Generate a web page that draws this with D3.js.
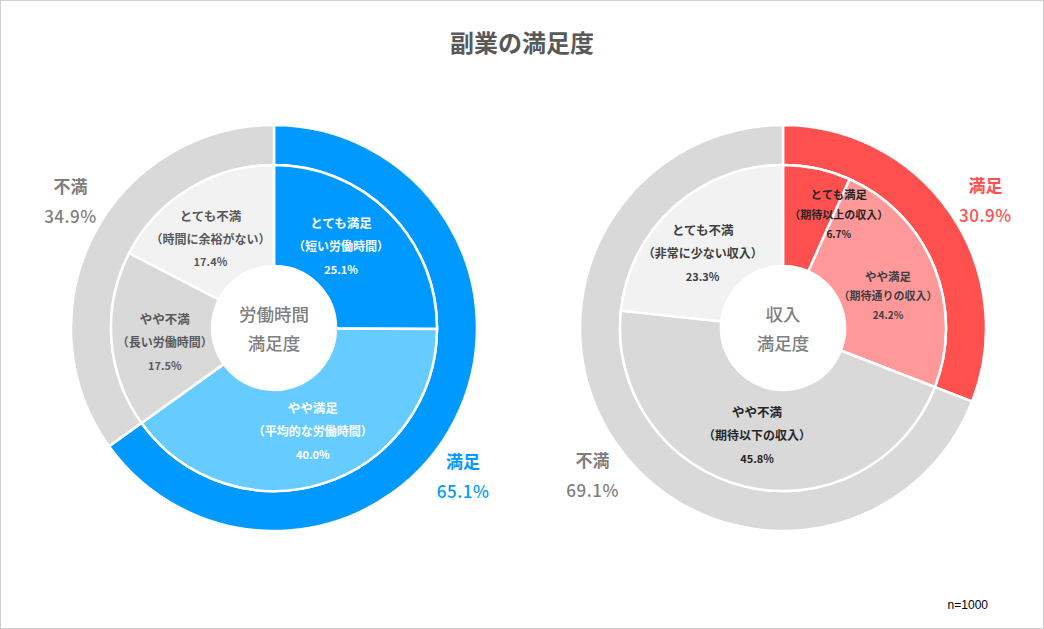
<!DOCTYPE html>
<html><head><meta charset="utf-8">
<script src="https://cdn.jsdelivr.net/npm/d3@7/dist/d3.min.js"></script>
<style>
html,body{margin:0;padding:0;background:#fff;}
svg{display:block;font-family:"Noto Sans CJK JP","Noto Sans",sans-serif;}
</style></head>
<body><svg id="chart" width="1044" height="629"></svg>
<script>
// ---------- data ----------
const chartTitle = "副業の満足度";
const sampleNote = "n=1000";

const leftCenterText = ["労働時間", "満足度"];
const leftInnerLabels = ["とても満足", "やや満足", "やや不満", "とても不満"];
const leftInnerSubs = ["（短い労働時間）", "（平均的な労働時間）", "（長い労働時間）", "（時間に余裕がない）"];
const leftInnerValues = [25.1, 40.0, 17.5, 17.4];
const leftOuterLabels = ["満足", "不満"];
const leftOuterValues = [65.1, 34.9];

const rightCenterText = ["収入", "満足度"];
const rightInnerLabels = ["とても満足", "やや満足", "やや不満", "とても不満"];
const rightInnerSubs = ["（期待以上の収入）", "（期待通りの収入）", "（期待以下の収入）", "（非常に少ない収入）"];
const rightInnerValues = [6.7, 24.2, 45.8, 23.3];
const rightOuterLabels = ["満足", "不満"];
const rightOuterValues = [30.9, 69.1];

// ---------- styles / layout ----------
const W = 1044, H = 629;
const svg = d3.select("#chart");
const fmt = d => d3.format(".1f")(d) + "%";
const rHole = 62, rInner = 163, rOuter = 203;

svg.append("rect").attr("x", 0.5).attr("y", 0.5).attr("width", W - 1).attr("height", H - 1)
  .attr("fill", "#fff").attr("stroke", "#d0d0d0").attr("stroke-width", 1);

svg.append("text").attr("x", W / 2).attr("y", 41).attr("text-anchor", "middle")
  .attr("dominant-baseline", "central").attr("font-size", 24).attr("font-weight", "bold")
  .attr("fill", "#595959").text(chartTitle);

svg.append("text").attr("x", 988).attr("y", 605).attr("text-anchor", "end")
  .attr("dominant-baseline", "central").attr("font-size", 12)
  .attr("font-family", "'Liberation Sans',Arial,sans-serif").attr("fill", "#000").text(sampleNote);

const deg = Math.PI / 180;

function donut(cfg) {
  const g = svg.append("g").attr("transform", `translate(${cfg.cx},${cfg.cy})`);
  const pie = d3.pie().sort(null).value(d => d);
  const innerArcs = pie(cfg.innerValues);
  const outerArcs = pie(cfg.outerValues);
  const arcIn = d3.arc().innerRadius(rHole).outerRadius(rInner);
  const arcOut = d3.arc().innerRadius(rInner).outerRadius(rOuter);

  g.selectAll("path.out").data(outerArcs).join("path").attr("class", "out")
    .attr("d", arcOut).attr("fill", (d, i) => cfg.outerColors[i])
    .attr("stroke", "#fff").attr("stroke-width", 2.5);
  g.selectAll("path.in").data(innerArcs).join("path").attr("class", "in")
    .attr("d", arcIn).attr("fill", (d, i) => cfg.innerColors[i])
    .attr("stroke", "#fff").attr("stroke-width", 2.5);

  // inner labels
  innerArcs.forEach((d, i) => {
    const lay = cfg.labelLayout[i] || {};
    const a = (d.startAngle + d.endAngle) / 2 + (lay.da || 0) * deg;
    const r = lay.r || 110;
    const [x, y] = d3.pointRadial(a, r);
    const fs = lay.fs || 12.5;
    const gap = lay.gap || 23;
    const t = g.append("g").attr("transform", `translate(${x},${y})`)
      .attr("fill", cfg.labelColors[i]).attr("font-weight", "bold").attr("text-anchor", "middle");
    t.append("text").attr("y", -gap).attr("dominant-baseline", "central").attr("font-size", fs).text(cfg.innerLabels[i]);
    t.append("text").attr("y", 0).attr("dominant-baseline", "central").attr("font-size", fs - 0.5).text(cfg.innerSubs[i]);
    t.append("text").attr("y", gap).attr("dominant-baseline", "central").attr("font-size", fs - 1.5).text(fmt(cfg.innerValues[i]));
  });

  // center text
  g.append("text").attr("y", -15).attr("text-anchor", "middle").attr("dominant-baseline", "central")
    .attr("font-size", 17.5).attr("font-weight", 500).attr("fill", "#7f7f7f").text(cfg.centerText[0]);
  g.append("text").attr("y", 14).attr("text-anchor", "middle").attr("dominant-baseline", "central")
    .attr("font-size", 17.5).attr("font-weight", 500).attr("fill", "#7f7f7f").text(cfg.centerText[1]);

  // outer annotations
  outerArcs.forEach((d, i) => {
    const [x, y] = d3.pointRadial(cfg.outerLabelAngles[i] * deg, 240);
    const t = g.append("g").attr("transform", `translate(${x},${y})`)
      .attr("fill", cfg.outerTextColors[i]).attr("text-anchor", "middle");
    t.append("text").attr("y", -15).attr("dominant-baseline", "central")
      .attr("font-size", 17).attr("font-weight", "bold").text(cfg.outerLabels[i]);
    t.append("text").attr("y", 15).attr("dominant-baseline", "central")
      .attr("font-size", 17).attr("font-weight", 500).attr("letter-spacing", 0.5).text(fmt(cfg.outerValues[i]));
  });
}

donut({
  cx: 274, cy: 328,
  innerValues: leftInnerValues, outerValues: leftOuterValues,
  innerLabels: leftInnerLabels, innerSubs: leftInnerSubs,
  outerLabels: leftOuterLabels, centerText: leftCenterText,
  innerColors: ["#0099ff", "#66ccff", "#d9d9d9", "#f2f2f2"],
  outerColors: ["#0099ff", "#d9d9d9"],
  labelColors: ["#fff", "#fff", "#595959", "#595959"],
  outerTextColors: ["#0099ff", "#7f7f7f"],
  outerLabelAngles: [128, 302],
  labelLayout: [{da: -6, r: 106}, {da: -3}, {da: -3}, {da: -4}]
});

donut({
  cx: 783, cy: 328,
  innerValues: rightInnerValues, outerValues: rightOuterValues,
  innerLabels: rightInnerLabels, innerSubs: rightInnerSubs,
  outerLabels: rightOuterLabels, centerText: rightCenterText,
  innerColors: ["#ff5050", "#ff9999", "#d9d9d9", "#f2f2f2"],
  outerColors: ["#ff5050", "#d9d9d9"],
  labelColors: ["#262626", "#404040", "#262626", "#404040"],
  outerTextColors: ["#ff5050", "#7f7f7f"],
  outerLabelAngles: [57.5, 232.5],
  labelLayout: [{da: 14, r: 127, fs: 11.5, gap: 20}, {da: 5, fs: 11.5, gap: 19}, {}, {da: -5}]
});
</script></body></html>
